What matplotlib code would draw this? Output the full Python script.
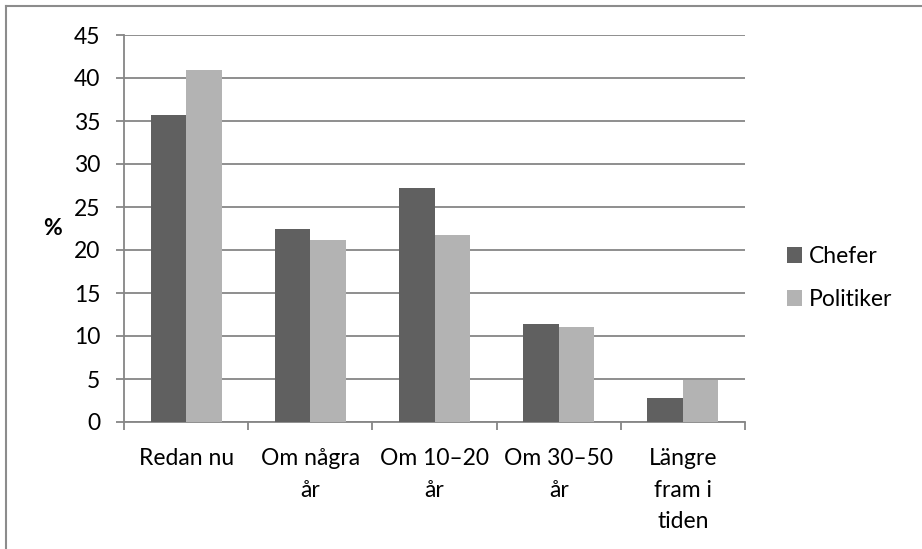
import numpy as np
import matplotlib
matplotlib.use("Agg")
import matplotlib.pyplot as plt
from matplotlib.lines import Line2D

categories = ["Redan nu", "Om några\når", "Om 10–20\når", "Om 30–50\når", "Längre\nfram i\ntiden"]
series_names = ["Chefer", "Politiker"]
chefer = [35.7, 22.5, 27.2, 11.4, 2.8]
politiker = [40.9, 21.2, 21.8, 11.0, 4.9]
colors = ["#606060", "#b3b3b3"]

plt.rcParams["font.family"] = ["Lato", "DejaVu Sans"]
grey = "#868686"
fs = 16.5

fig = plt.figure(figsize=(9.22, 5.49), dpi=100)
ax = fig.add_axes([124 / 922, 1 - 422 / 549, (745 - 124) / 922, (422 - 35) / 549])

x = np.arange(len(categories))
w = 1 / 3.5
ax.bar(x - w / 2, chefer, width=w, color=colors[0], label=series_names[0], zorder=3)
ax.bar(x + w / 2, politiker, width=w, color=colors[1], label=series_names[1], zorder=3)

ax.set_xlim(-0.5, len(categories) - 0.5)
ax.set_ylim(0, 45)
ax.set_yticks(range(0, 46, 5))
ax.yaxis.grid(True, color=grey, linewidth=1.3, zorder=0)
ax.set_axisbelow(True)

ax.set_xticks(x)
ax.set_xticklabels(categories, fontsize=fs, linespacing=1.6, va="top")
ax.set_xticks(np.arange(-0.5, len(categories)), minor=True)
ax.tick_params(axis="x", which="major", length=0, pad=19)
ax.tick_params(axis="x", which="minor", length=6, color=grey, width=1.3)
ax.tick_params(axis="y", length=6, color=grey, width=1.3, labelsize=fs, pad=11)

for s in ["top", "right"]:
    ax.spines[s].set_visible(False)
for s in ["left", "bottom"]:
    ax.spines[s].set_color(grey)
    ax.spines[s].set_linewidth(1.3)

ax.set_ylabel("%", rotation=0, fontsize=fs, fontweight="bold", va="center")
ax.yaxis.set_label_coords(-0.115, 0.5)

ax.legend(loc="center left", bbox_to_anchor=(1.053, 0.372), frameon=False, fontsize=fs,
          handlelength=0.65, handleheight=0.65, handletextpad=0.3, labelspacing=0.95,
          borderaxespad=0)

fig.add_artist(Line2D([6 / 922, 6 / 922], [0, 1 - 6 / 549], color="#8c8c8c", lw=1.5))
fig.add_artist(Line2D([6 / 922, 1], [1 - 6 / 549, 1 - 6 / 549], color="#8c8c8c", lw=1.5))

fig.savefig("out.png", dpi=100)
